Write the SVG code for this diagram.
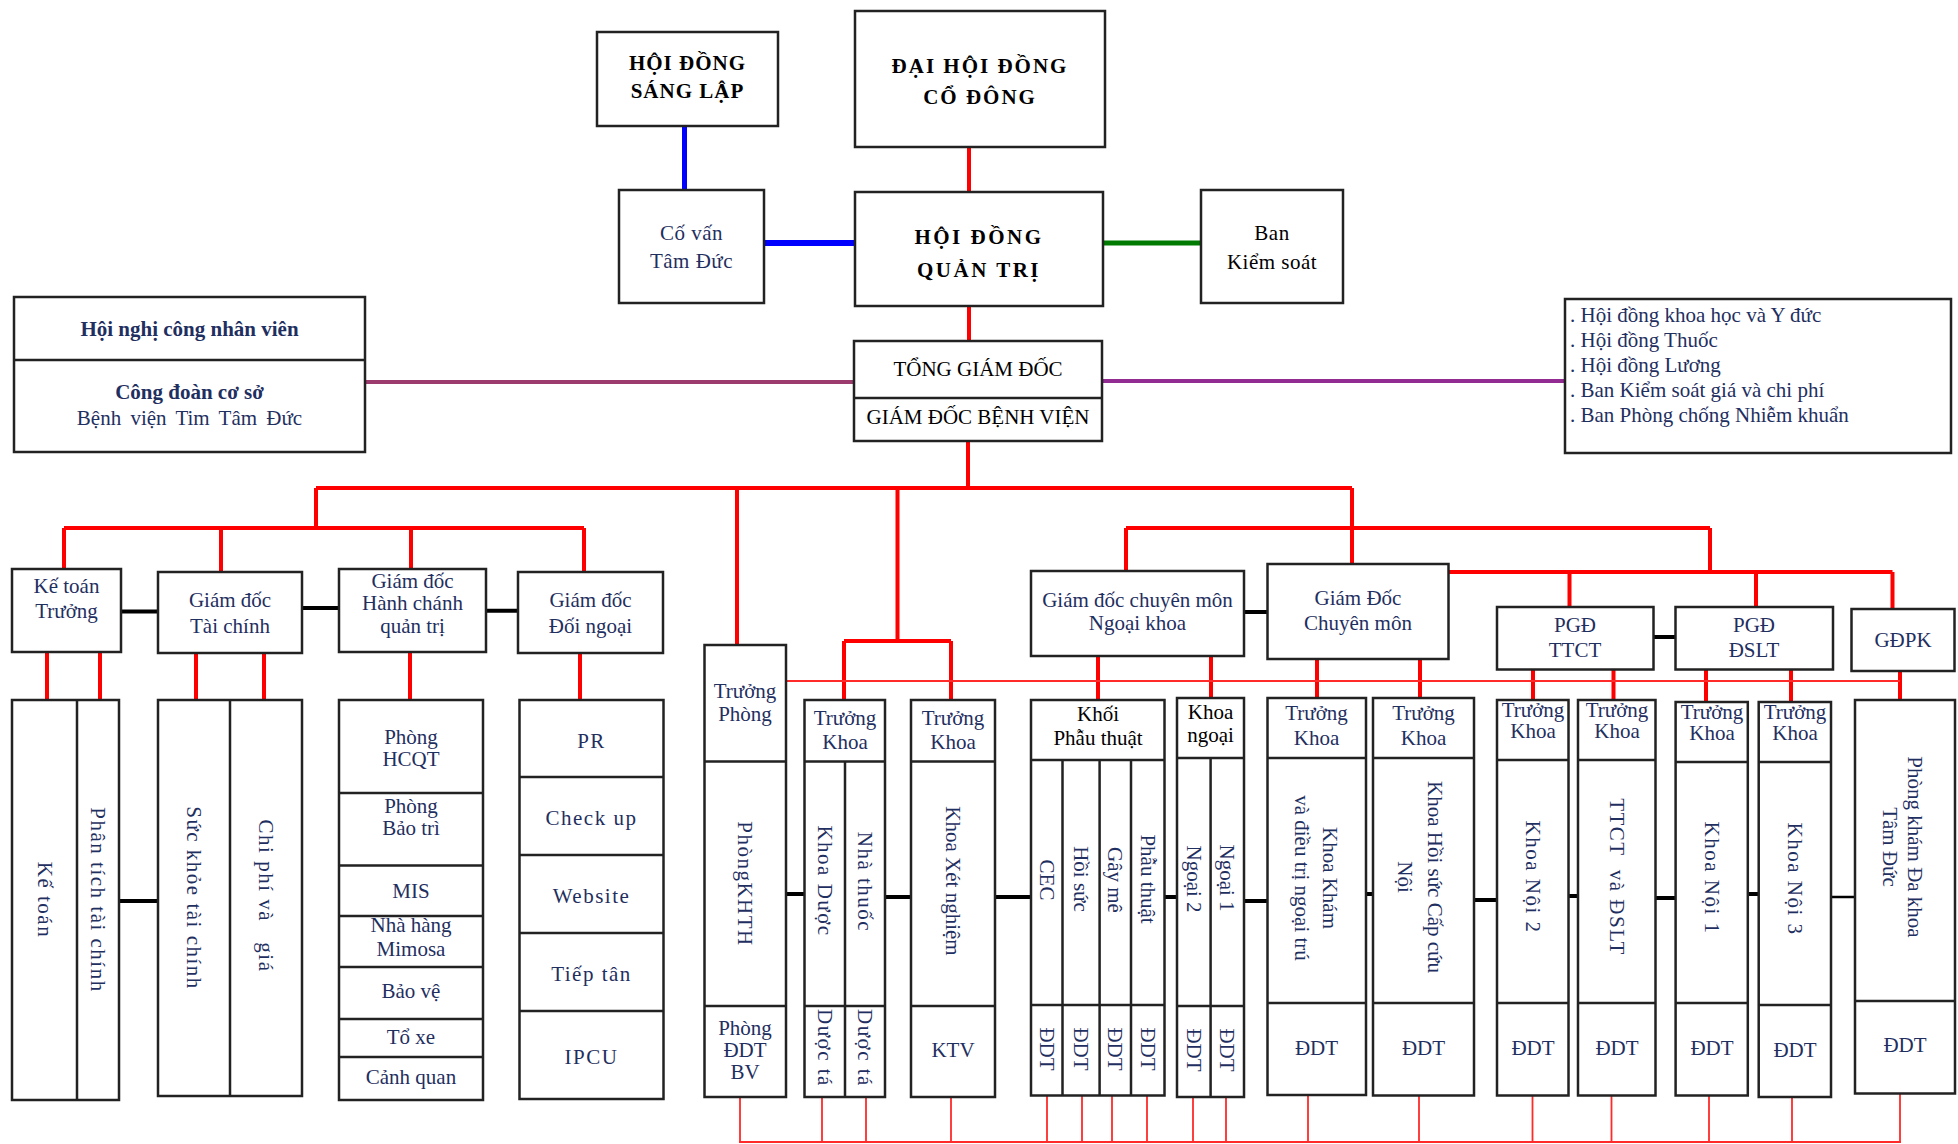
<svg xmlns="http://www.w3.org/2000/svg" width="1958" height="1144" viewBox="0 0 1958 1144">
<style>
text{font-family:"Liberation Serif","Times New Roman",serif;font-size:21px}
.n{fill:#1f2f5f}
.k{fill:#000}
.c{text-anchor:middle}
.v{text-anchor:middle;dominant-baseline:central}
.bx{fill:#fff;stroke:#222;stroke-width:2.5}
.ln{stroke:#222;stroke-width:2.5;fill:none}
.red{stroke:#ff0000;stroke-width:4;fill:none}
.thin{stroke:#ff2a2a;stroke-width:1.8;fill:none}
.blk{stroke:#000;stroke-width:4;fill:none}
.ls{letter-spacing:1.5px}
</style>
<rect width="1958" height="1144" fill="#fff"/>
<g id="connectors">
<path d="M684.5 126V190" stroke="#0000ff" stroke-width="5"/>
<path d="M764 243H855" stroke="#0000ff" stroke-width="6"/>
<path d="M1103 243H1201" stroke="#007a00" stroke-width="5"/>
<path d="M365 382H854" stroke="#9b3b6e" stroke-width="4"/>
<path d="M1102 381H1565" stroke="#922b92" stroke-width="4"/>
<path class="red" d="M969 147V192M969 306V341M968 441V488M316 488H1352M316 488V528M64 528H584M64 528V569M221 528V572M411 528V569M584 528V572M737 488V645M897.5 488V641M844 641H951M844 641V700M951 641V700M1352 488V564M1126 528H1710M1126 528V571M1710 528V572M1448.5 572H1892.5M1569.5 572V607M1756 572V607M1892.5 572V609"/>
<path class="red" d="M47 652V700M100 652V700M196 653V700M264 653V700M410 652V700M580 653V700M1098 656V700M1211 656V698M1317 659V698M1420 659V698M1533 669V700M1613.5 669V700M1706 669V702M1791 669V702M1900 671V700"/>
<path class="thin" d="M786 681H1900"/>
<path class="thin" d="M740 1097V1142M822 1097V1142M866 1097V1142M951 1097V1142M1047 1095V1142M1082 1095V1142M1112 1095V1142M1147 1095V1142M1193 1097V1142M1226 1097V1142M1308 1095V1142M1419 1095V1142M1532.5 1095V1142M1611.5 1095V1142M1709 1095V1142M1792 1097V1142M1900 1093V1142M739 1142H1901"/>
<path class="blk" d="M121 611.5H158M302 608H339M486 610.7H518M119 901H158M786 894H804.5M885 897H911M995 897H1031M1164.5 897H1177M1244 901H1267.5M1366 894H1373M1474 900H1497M1568 896H1578M1655.5 898H1675.6M1747.8 894H1758.7M1244 612H1267.5M1653.5 637H1675.5"/>
<path d="M1831 897H1855" stroke="#000" stroke-width="2.5"/>
</g>

<g id="hoi-dong-sang-lap">
<rect class="bx" x="597" y="32" width="181" height="94"/>
<text class="k c" font-weight="bold" font-size="23" letter-spacing="1"><tspan x="687.5" y="70">HỘI ĐỒNG</tspan><tspan x="687.5" y="98">SÁNG LẬP</tspan></text>
</g>
<g id="dai-hoi-dong-co-dong">
<rect class="bx" x="855" y="11" width="250" height="136"/>
<text class="k c" font-weight="bold" font-size="31" letter-spacing="2"><tspan x="980" y="73">ĐẠI HỘI ĐỒNG</tspan><tspan x="980" y="104">CỔ ĐÔNG</tspan></text>
</g>
<g id="co-van">
<rect class="bx" x="619" y="190" width="145" height="113"/>
<text class="n c" font-size="24" letter-spacing="0.5"><tspan x="691.5" y="240">Cố vấn</tspan><tspan x="691.5" y="268">Tâm Đức</tspan></text>
</g>
<g id="hdqt">
<rect class="bx" x="855" y="192" width="248" height="114"/>
<text class="k c" font-weight="bold" font-size="34" letter-spacing="2.5"><tspan x="979" y="244">HỘI ĐỒNG</tspan><tspan x="979" y="277">QUẢN TRỊ</tspan></text>
</g>
<g id="ban-kiem-soat">
<rect class="bx" x="1201" y="190" width="142" height="113"/>
<text class="k c" font-size="24" letter-spacing="0.5"><tspan x="1272" y="240">Ban</tspan><tspan x="1272" y="269">Kiểm soát</tspan></text>
</g>
<g id="tong-giam-doc">
<rect class="bx" x="854" y="341" width="248" height="100"/>
<path class="ln" d="M854 398H1102"/>
<text class="k c" x="978" y="376" font-size="19">TỔNG GIÁM ĐỐC</text>
<text class="k c" x="978" y="424" font-size="17">GIÁM ĐỐC BỆNH VIỆN</text>
</g>
<g id="hoi-nghi">
<rect class="bx" x="14" y="297" width="351" height="155"/>
<path class="ln" d="M14 360H365"/>
<text class="n c" x="189.5" y="336" font-size="20" font-weight="bold">Hội nghị công nhân viên</text>
<text class="n c" x="189.5" y="399" font-size="20" font-weight="bold">Công đoàn cơ sở</text>
<text class="n c" x="189.5" y="425" font-size="20" word-spacing="4">Bệnh viện Tim Tâm Đức</text>
</g>
<g id="hoi-dong-list">
<rect class="bx" x="1565" y="299" width="386" height="154"/>
<text class="n" font-size="21"><tspan x="1570" y="322">. Hội đồng khoa học và Y đức</tspan><tspan x="1570" y="347">. Hội đồng Thuốc</tspan><tspan x="1570" y="372">. Hội đồng Lương</tspan><tspan x="1570" y="397">. Ban Kiểm soát giá và chi phí</tspan><tspan x="1570" y="422">. Ban Phòng chống Nhiễm khuẩn</tspan></text>
</g>

<g id="ke-toan-truong">
<rect class="bx" x="12" y="569" width="109" height="83"/>
<text class="n c" font-size="20"><tspan x="66.5" y="593">Kế toán</tspan><tspan x="66.5" y="618">Trưởng</tspan></text>
</g>
<g id="gd-tai-chinh">
<rect class="bx" x="158" y="572" width="144" height="81"/>
<text class="n c" font-size="21"><tspan x="230" y="607">Giám đốc</tspan><tspan x="230" y="633">Tài chính</tspan></text>
</g>
<g id="gd-hanh-chanh">
<rect class="bx" x="339" y="569" width="147" height="83"/>
<text class="n c" x="412.5" y="588" font-size="19">Giám đốc</text>
<text class="n c" x="412.5" y="610" font-size="14">Hành chánh</text>
<text class="n c" x="412.5" y="633" font-size="14">quản trị</text>
</g>
<g id="gd-doi-ngoai">
<rect class="bx" x="518" y="572" width="145" height="81"/>
<text class="n c" font-size="21"><tspan x="590.5" y="607">Giám đốc</tspan><tspan x="590.5" y="633">Đối ngoại</tspan></text>
</g>

<g id="ke-toan-cols">
<rect class="bx" x="12" y="700" width="107" height="400"/>
<path class="ln" d="M77 700V1100"/>
<text class="n v ls" font-size="23" transform="translate(44.5 900) rotate(90)">Kế toán</text>
<text class="n v ls" font-size="23" transform="translate(98 900) rotate(90)">Phân tích tài chính</text>
</g>
<g id="tai-chinh-cols">
<rect class="bx" x="158" y="700" width="144" height="396"/>
<path class="ln" d="M230 700V1096"/>
<text class="n v ls" font-size="23" transform="translate(194 898) rotate(90)">Sức khỏe tài chính</text>
<text class="n v ls" font-size="22" xml:space="preserve" transform="translate(266 896) rotate(90)">Chi phí và   giá</text>
</g>
<g id="hcqt-stack">
<rect class="bx" x="339" y="700" width="144" height="400"/>
<path class="ln" d="M339 793H483M339 865.5H483M339 916H483M339 967H483M339 1019H483M339 1057H483"/>
<text class="n c" font-size="20"><tspan x="411" y="744">Phòng</tspan><tspan x="411" y="766">HCQT</tspan></text>
<text class="n c" font-size="20"><tspan x="411" y="813">Phòng</tspan><tspan x="411" y="835">Bảo trì</tspan></text>
<text class="n c" x="411" y="898" font-size="20">MIS</text>
<text class="n c" x="411" y="932" font-size="15">Nhà hàng</text>
<text class="n c" x="411" y="956" font-size="15">Mimosa</text>
<text class="n c" x="411" y="998" font-size="20">Bảo vệ</text>
<text class="n c" x="411" y="1044" font-size="20">Tổ xe</text>
<text class="n c" x="411" y="1084" font-size="20">Cảnh quan</text>
</g>
<g id="doi-ngoai-stack">
<rect class="bx" x="519.5" y="700" width="144" height="399"/>
<path class="ln" d="M519.5 777H663.5M519.5 855H663.5M519.5 933H663.5M519.5 1011H663.5"/>
<text class="n c ls" x="591.5" y="748" font-size="23">PR</text>
<text class="n c ls" x="591.5" y="825" font-size="23">Check up</text>
<text class="n c ls" x="591.5" y="903" font-size="23">Website</text>
<text class="n c ls" x="591.5" y="981" font-size="23">Tiếp tân</text>
<text class="n c ls" x="591.5" y="1064" font-size="23">IPCU</text>
</g>

<g id="phong-khth">
<rect class="bx" x="704.5" y="645" width="81.5" height="452"/>
<path class="ln" d="M704.5 761.5H786M704.5 1006H786"/>
<text class="n c" font-size="20"><tspan x="745" y="698">Trưởng</tspan><tspan x="745" y="721">Phòng</tspan></text>
<text class="n v ls" font-size="23" transform="translate(745 884) rotate(90)">PhòngKHTH</text>
<text class="n c" font-size="20"><tspan x="745" y="1035">Phòng</tspan><tspan x="745" y="1057">ĐDT</tspan><tspan x="745" y="1079">BV</tspan></text>
</g>
<g id="khoa-duoc">
<rect class="bx" x="804.5" y="700" width="80.5" height="397"/>
<path class="ln" d="M804.5 761.5H885M804.5 1006H885M845 761.5V1097"/>
<text class="n c" font-size="20"><tspan x="845" y="725">Trưởng</tspan><tspan x="845" y="749">Khoa</tspan></text>
<text class="n v ls" font-size="22" transform="translate(825 881) rotate(90)">Khoa Dược</text>
<text class="n v ls" font-size="22" transform="translate(865 882) rotate(90)">Nhà thuốc</text>
<text class="n v" font-size="14" letter-spacing="1.5" transform="translate(825 1048) rotate(90)">Dược tá</text>
<text class="n v" font-size="14" letter-spacing="1.5" transform="translate(865 1048) rotate(90)">Dược tá</text>
</g>
<g id="khoa-xet-nghiem">
<rect class="bx" x="911" y="700" width="84" height="397"/>
<path class="ln" d="M911 761.5H995M911 1006H995"/>
<text class="n c" font-size="20"><tspan x="953" y="725">Trưởng</tspan><tspan x="953" y="749">Khoa</tspan></text>
<text class="n v" font-size="21" transform="translate(953 881) rotate(90)">Khoa Xét nghiệm</text>
<text class="n c" x="953" y="1057" font-size="20">KTV</text>
</g>
<g id="gd-cm-ngoai-khoa">
<rect class="bx" x="1031" y="571" width="213" height="85"/>
<text class="n c" font-size="19"><tspan x="1137.5" y="607">Giám đốc chuyên môn</tspan><tspan x="1137.5" y="630">Ngoại khoa</tspan></text>
</g>
<g id="khoi-phau-thuat">
<rect class="bx" x="1031" y="700" width="133.5" height="395.5"/>
<path class="ln" d="M1031 760H1164.5M1031 1005H1164.5M1062.5 760V1095.5M1099.6 760V1095.5M1131 760V1095.5"/>
<text class="k c" font-size="22"><tspan x="1098" y="721">Khối</tspan><tspan x="1098" y="745">Phẫu thuật</tspan></text>
<text class="n v" font-size="20" transform="translate(1047 880) rotate(90)">CEC</text>
<text class="n v" font-size="21" transform="translate(1081 879) rotate(90)">Hồi sức</text>
<text class="n v" font-size="14" transform="translate(1115 880) rotate(90)">Gây mê</text>
<text class="n v" font-size="21" transform="translate(1148 879) rotate(90)">Phẫu thuật</text>
<text class="n v" font-size="20" transform="translate(1047 1049) rotate(90)">ĐDT</text>
<text class="n v" font-size="20" transform="translate(1081 1049) rotate(90)">ĐDT</text>
<text class="n v" font-size="20" transform="translate(1115 1049) rotate(90)">ĐDT</text>
<text class="n v" font-size="20" transform="translate(1148 1049) rotate(90)">ĐDT</text>
</g>
<g id="khoa-ngoai">
<rect class="bx" x="1177" y="698" width="67" height="399"/>
<path class="ln" d="M1177 758H1244M1177 1006H1244M1210.6 758V1097"/>
<text class="k c" font-size="22"><tspan x="1210.5" y="719">Khoa</tspan><tspan x="1210.5" y="742">ngoại</tspan></text>
<text class="n v" font-size="21" transform="translate(1194 879) rotate(90)">Ngoại 2</text>
<text class="n v" font-size="21" transform="translate(1227 878) rotate(90)">Ngoại 1</text>
<text class="n v" font-size="20" transform="translate(1194 1050) rotate(90)">ĐDT</text>
<text class="n v" font-size="20" transform="translate(1227 1050) rotate(90)">ĐDT</text>
</g>
<g id="gd-chuyen-mon">
<rect class="bx" x="1267.5" y="564" width="181" height="95"/>
<text class="n c" font-size="21"><tspan x="1358" y="605">Giám Đốc</tspan><tspan x="1358" y="630">Chuyên môn</tspan></text>
</g>
<g id="khoa-kham">
<rect class="bx" x="1267.5" y="698" width="98.5" height="397"/>
<path class="ln" d="M1267.5 758H1366M1267.5 1003H1366"/>
<text class="n c" font-size="21"><tspan x="1316.5" y="720">Trưởng</tspan><tspan x="1316.5" y="745">Khoa</tspan></text>
<text class="n c" font-size="21" transform="translate(1316 878) rotate(90)"><tspan x="0" y="-7">Khoa Khám</tspan><tspan x="0" y="21">và điều trị ngoại trú</tspan></text>
<text class="n c" x="1316.5" y="1055" font-size="20">ĐDT</text>
</g>
<g id="khoa-hoi-suc">
<rect class="bx" x="1373" y="698" width="101" height="397.5"/>
<path class="ln" d="M1373 758H1474M1373 1003H1474"/>
<text class="n c" font-size="21"><tspan x="1423.5" y="720">Trưởng</tspan><tspan x="1423.5" y="745">Khoa</tspan></text>
<text class="n c" font-size="21" transform="translate(1420 877) rotate(90)"><tspan x="0" y="-8">Khoa Hồi sức Cấp cứu</tspan><tspan x="0" y="22">Nội</tspan></text>
<text class="n c" x="1423.5" y="1055" font-size="20">ĐDT</text>
</g>
<g id="pgd-ttct">
<rect class="bx" x="1497" y="607" width="156.5" height="62.5"/>
<text class="n c" font-size="22"><tspan x="1575" y="632">PGĐ</tspan><tspan x="1575" y="657">TTCT</tspan></text>
</g>
<g id="pgd-dslt">
<rect class="bx" x="1675.5" y="607" width="157.5" height="62.5"/>
<text class="n c" font-size="22"><tspan x="1754" y="632">PGĐ</tspan><tspan x="1754" y="657">ĐSLT</tspan></text>
</g>
<g id="gdpk">
<rect class="bx" x="1851.5" y="609" width="103" height="62"/>
<text class="n c" x="1903" y="647" font-size="22">GĐPK</text>
</g>
<g id="khoa-noi-2">
<rect class="bx" x="1497" y="700" width="71.5" height="395.5"/>
<path class="ln" d="M1497 760H1568.5M1497 1003H1568.5"/>
<text class="n c" x="1533" y="717" font-size="14.5">Trưởng</text>
<text class="n c" x="1533" y="738" font-size="14.5">Khoa</text>
<text class="n v ls" font-size="22" transform="translate(1533 877) rotate(90)">Khoa Nội 2</text>
<text class="n c" x="1533" y="1055" font-size="20">ĐDT</text>
</g>
<g id="ttct-dslt">
<rect class="bx" x="1578" y="700" width="77.5" height="395.5"/>
<path class="ln" d="M1578 760H1655.5M1578 1003H1655.5"/>
<text class="n c" x="1617" y="717" font-size="14.5">Trưởng</text>
<text class="n c" x="1617" y="738" font-size="14.5">Khoa</text>
<text class="n v ls" font-size="22" xml:space="preserve" transform="translate(1617 877) rotate(90)">TTCT  và ĐSLT</text>
<text class="n c" x="1617" y="1055" font-size="20">ĐDT</text>
</g>
<g id="khoa-noi-1">
<rect class="bx" x="1675.6" y="702" width="72.2" height="393.5"/>
<path class="ln" d="M1675.6 762H1747.8M1675.6 1003H1747.8"/>
<text class="n c" x="1712" y="719" font-size="14.5">Trưởng</text>
<text class="n c" x="1712" y="740" font-size="14.5">Khoa</text>
<text class="n v ls" font-size="22" transform="translate(1712 878) rotate(90)">Khoa Nội 1</text>
<text class="n c" x="1712" y="1055" font-size="20">ĐDT</text>
</g>
<g id="khoa-noi-3">
<rect class="bx" x="1758.7" y="702" width="72.3" height="395"/>
<path class="ln" d="M1758.7 762H1831M1758.7 1005H1831"/>
<text class="n c" x="1795" y="719" font-size="14.5">Trưởng</text>
<text class="n c" x="1795" y="740" font-size="14.5">Khoa</text>
<text class="n v ls" font-size="22" transform="translate(1795 879) rotate(90)">Khoa Nội 3</text>
<text class="n c" x="1795" y="1057" font-size="20">ĐDT</text>
</g>
<g id="phong-kham">
<rect class="bx" x="1855" y="700" width="100" height="393.5"/>
<path class="ln" d="M1855 1001H1955"/>
<text class="n c" font-size="20" transform="translate(1902 847) rotate(90)"><tspan x="0" y="-6">Phòng khám Đa khoa</tspan><tspan x="0" y="19">Tâm Đức</tspan></text>
<text class="n c" x="1905" y="1052" font-size="20">ĐDT</text>
</g>
</svg>
